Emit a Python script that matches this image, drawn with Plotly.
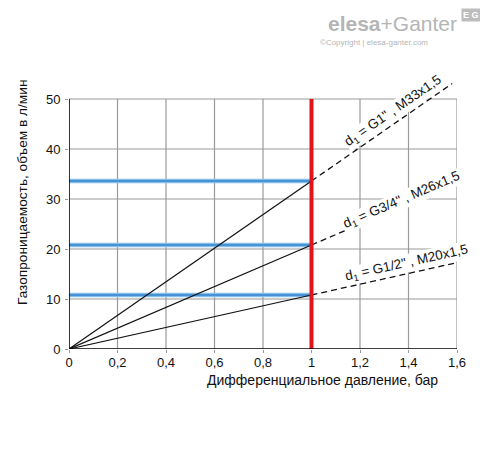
import plotly.graph_objects as go

# Data
pressure_ticks = [0, 0.2, 0.4, 0.6, 0.8, 1, 1.2, 1.4, 1.6]
pressure_labels = ["0", "0,2", "0,4", "0,6", "0,8", "1", "1,2", "1,4", "1,6"]
flow_ticks = [0, 10, 20, 30, 40, 50]
flow_labels = ["0", "10", "20", "30", "40", "50"]

series_names = ['d<sub>1</sub> = G1" , M33x1,5',
                'd<sub>1</sub> = G3/4" , M26x1,5',
                'd<sub>1</sub> = G1/2" , M20x1,5']
flow_at_1bar = [33.6, 20.8, 10.8]
dash_end_x = [1.58, 1.6, 1.6]
label_x = [1.335, 1.37, 1.39]
label_y = [47.6, 29.8, 17.2]
label_angle = [-34.7, -23.2, -12.6]

ref_pressure = 1.0
x_max = 1.6
y_max = 50
y_range_top = 55

FONT = "Liberation Sans, Arial, sans-serif"
fig = go.Figure()

shapes = []
grey = "#9a9a9a"
# grid
for yv in flow_ticks[1:]:
    shapes.append(dict(type="line", xref="x", yref="y", x0=0, x1=x_max, y0=yv, y1=yv,
                       line=dict(color=grey, width=1.2), layer="below"))
for xv in pressure_ticks[1:]:
    shapes.append(dict(type="line", xref="x", yref="y", x0=xv, x1=xv, y0=0, y1=y_max,
                       line=dict(color=grey, width=1.2), layer="below"))

# blue horizontal lines
for q in flow_at_1bar:
    fig.add_trace(go.Scatter(x=[0, ref_pressure], y=[q, q], mode="lines",
                             line=dict(color="#86bfea", width=4.5), hoverinfo="skip", showlegend=False))
    fig.add_trace(go.Scatter(x=[0, ref_pressure], y=[q, q], mode="lines",
                             line=dict(color="#2f84cc", width=1.6), hoverinfo="skip", showlegend=False))

# black lines
for q, xe in zip(flow_at_1bar, dash_end_x):
    fig.add_trace(go.Scatter(x=[0, ref_pressure], y=[0, q], mode="lines",
                             line=dict(color="#111111", width=1.2), hoverinfo="skip", showlegend=False))
    fig.add_trace(go.Scatter(x=[ref_pressure, xe], y=[q, q * xe / ref_pressure], mode="lines",
                             line=dict(color="#111111", width=1.3, dash="6px,4px"),
                             hoverinfo="skip", showlegend=False))

# red line
fig.add_trace(go.Scatter(x=[ref_pressure, ref_pressure], y=[0, y_max], mode="lines",
                         line=dict(color="#e3131b", width=4), hoverinfo="skip", showlegend=False))

# axis lines
shapes.append(dict(type="line", xref="x", yref="y", x0=0, x1=0, y0=0, y1=y_max,
                   line=dict(color="black", width=1.6)))
shapes.append(dict(type="line", xref="x", yref="y", x0=0, x1=x_max, y0=0, y1=0,
                   line=dict(color="black", width=1.6)))

annotations = []
for name, lx, ly, ang in zip(series_names, label_x, label_y, label_angle):
    annotations.append(dict(x=lx, y=ly, xref="x", yref="y", text=name, showarrow=False,
                            xanchor="center", yanchor="middle",
                            textangle=ang, font=dict(size=13.5, color="#111111", family=FONT),
                            bgcolor="white", borderpad=0))

# page offset (body margin) = 8 px
OFF = 8
W, H = 488, 454
l, t = 69 - OFF, 74 - OFF
pw, ph = 388, 275
r = W - l - pw
b = H - t - ph


def px(xp, yp):
    return (xp - OFF - l) / pw, (H - b - (yp - OFF)) / ph


def pix_ann(xp, yp, text, size, color="#111111", angle=0, **kw):
    x, y = px(xp, yp)
    d = dict(x=x, y=y, xref="paper", yref="paper", text=text, showarrow=False,
             xanchor="center", yanchor="middle", textangle=angle,
             font=dict(size=size, color=color, family=FONT))
    d.update(kw)
    return d


annotations.append(pix_ann(22, 193, "Газопроницаемость, объем в л/мин", 13.7, angle=-90))
annotations.append(pix_ann(322, 380, "Дифференциальное давление, бар", 14))
annotations.append(pix_ann(392, 24, "<b>elesa</b>+Ganter", 21, color="#b5b5b5"))
annotations.append(pix_ann(374, 43, "©Copyright | elesa-ganter.com", 8, color="#b5b5b5"))
annotations.append(pix_ann(471, 15, "<b>E G</b>", 9, color="white", bgcolor="#bdbdbd", borderpad=1))

fig.update_layout(
    width=W, height=H,
    margin=dict(l=l, r=r, t=t, b=b, autoexpand=False),
    plot_bgcolor="white", paper_bgcolor="white",
    shapes=shapes,
    annotations=annotations,
    xaxis=dict(range=[0, x_max], tickvals=pressure_ticks, ticktext=pressure_labels,
               showgrid=False, zeroline=False, showline=False,
               ticks="outside", ticklen=3, tickcolor=grey, ticklabelstandoff=-2,
               tickfont=dict(size=13, color="#111111", family=FONT)),
    yaxis=dict(range=[0, y_range_top], tickvals=flow_ticks, ticktext=flow_labels,
               showgrid=False, zeroline=False, showline=False,
               ticks="outside", ticklen=3, tickcolor=grey, ticklabelstandoff=2,
               tickfont=dict(size=13, color="#111111", family=FONT)),
)

fig.write_html("out.html")
